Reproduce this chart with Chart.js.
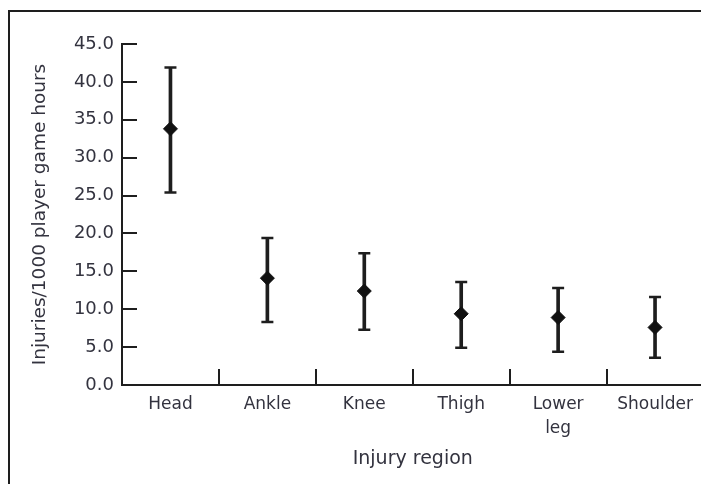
<!DOCTYPE html>
<html>
<head>
<meta charset="utf-8">
<script src="https://cdn.jsdelivr.net/npm/chart.js@4"></script>
<style>
    html, body { margin: 0; padding: 0; background: #fff; overflow: hidden; }
    #wrap { position: relative; width: 712px; height: 484px; }
    #frame { position: absolute; left: 8px; top: 10px; right: -10px; bottom: -10px; border-top: 2px solid #1e1e1e; border-left: 2px solid #1e1e1e; pointer-events: none; }
</style>
</head>
<body>
<div id="wrap">
    <canvas id="injuryChart"></canvas>
    <div id="frame"></div>
</div>
<script>
// Injury rate per region with 95% CI
const categories = ['Head', 'Ankle', 'Knee', 'Thigh', ['Lower', 'leg'], 'Shoulder'];
const rates = [33.8, 14.1, 12.4, 9.4, 8.9, 7.6];
const lowerCI = [25.4, 8.3, 7.3, 4.9, 4.4, 3.6];
const upperCI = [41.9, 19.4, 17.4, 13.6, 12.8, 11.6];
const yTicks = [0, 5, 10, 15, 20, 25, 30, 35, 40, 45];

const ink = '#1e1e1e';
const textColor = '#33333f';
const fontFamily = '"DejaVu Sans", sans-serif';

// inward ticks on the y axis and category separators on the x axis
const axisMarks = {
    id: 'axisMarks',
    afterDatasetsDraw(chart) {
        const { ctx, chartArea, scales: { x, y } } = chart;
        ctx.save();
        ctx.strokeStyle = ink;
        ctx.lineWidth = 2;
        ctx.beginPath();
        yTicks.forEach(v => {
            const py = Math.round(y.getPixelForValue(v));
            ctx.moveTo(chartArea.left, py);
            ctx.lineTo(chartArea.left + 15, py);
        });
        for (let i = 1; i < categories.length; i++) {
            const px = Math.round((x.getPixelForValue(i - 1) + x.getPixelForValue(i)) / 2);
            ctx.moveTo(px, chartArea.bottom);
            ctx.lineTo(px, chartArea.bottom - 16);
        }
        ctx.stroke();
        ctx.restore();
    }
};

const ctx = document.getElementById('injuryChart').getContext('2d');
new Chart(ctx, {
    data: {
        labels: categories,
        datasets: [
            {
                type: 'line',
                label: 'Rate',
                data: rates,
                showLine: false,
                pointStyle: 'rectRot',
                pointRadius: 7,
                pointBackgroundColor: '#111',
                pointBorderColor: '#111',
                pointBorderWidth: 1,
                order: 0
            },
            {
                type: 'bar',
                label: 'CI',
                data: lowerCI.map((lo, i) => [lo, upperCI[i]]),
                backgroundColor: ink,
                barThickness: 3,
                order: 1
            },
            {
                type: 'line',
                label: 'Upper',
                data: upperCI,
                showLine: false,
                pointStyle: 'line',
                pointRadius: 6,
                pointBorderColor: ink,
                pointBorderWidth: 2.5,
                order: 1
            },
            {
                type: 'line',
                label: 'Lower',
                data: lowerCI,
                showLine: false,
                pointStyle: 'line',
                pointRadius: 6,
                pointBorderColor: ink,
                pointBorderWidth: 2.5,
                order: 1
            }
        ]
    },
    options: {
        responsive: true,
        maintainAspectRatio: false,
        animation: false,
        layout: { padding: { top: 44, left: 0, right: 2, bottom: 0 } },
        plugins: {
            legend: { display: false },
            tooltip: { enabled: false }
        },
        scales: {
            x: {
                type: 'category',
                offset: true,
                grid: { display: false, drawTicks: false },
                border: { display: true, color: ink, width: 2 },
                ticks: {
                    color: textColor,
                    padding: 7,
                    maxRotation: 0,
                    autoSkip: false,
                    font: { family: fontFamily, size: 17, lineHeight: 1.45 }
                },
                title: {
                    display: true,
                    text: 'Injury region',
                    color: textColor,
                    font: { family: fontFamily, size: 19 },
                    padding: { top: 0, bottom: 14 }
                },
                afterFit(scale) { scale.height = 99; }
            },
            y: {
                min: 0,
                max: 45,
                grid: { display: false, drawTicks: false },
                border: { display: true, color: ink, width: 2 },
                afterBuildTicks(scale) { scale.ticks = yTicks.map(v => ({ value: v })); },
                ticks: {
                    color: textColor,
                    padding: 8,
                    font: { family: fontFamily, size: 18 },
                    callback: v => v.toFixed(1)
                },
                title: {
                    display: true,
                    text: 'Injuries/1000 player game hours',
                    color: textColor,
                    font: { family: fontFamily, size: 18.5 },
                    padding: { top: 29, bottom: 0 }
                },
                afterFit(scale) { scale.width = 122; }
            }
        }
    },
    plugins: [axisMarks]
});
</script>
</body>
</html>
